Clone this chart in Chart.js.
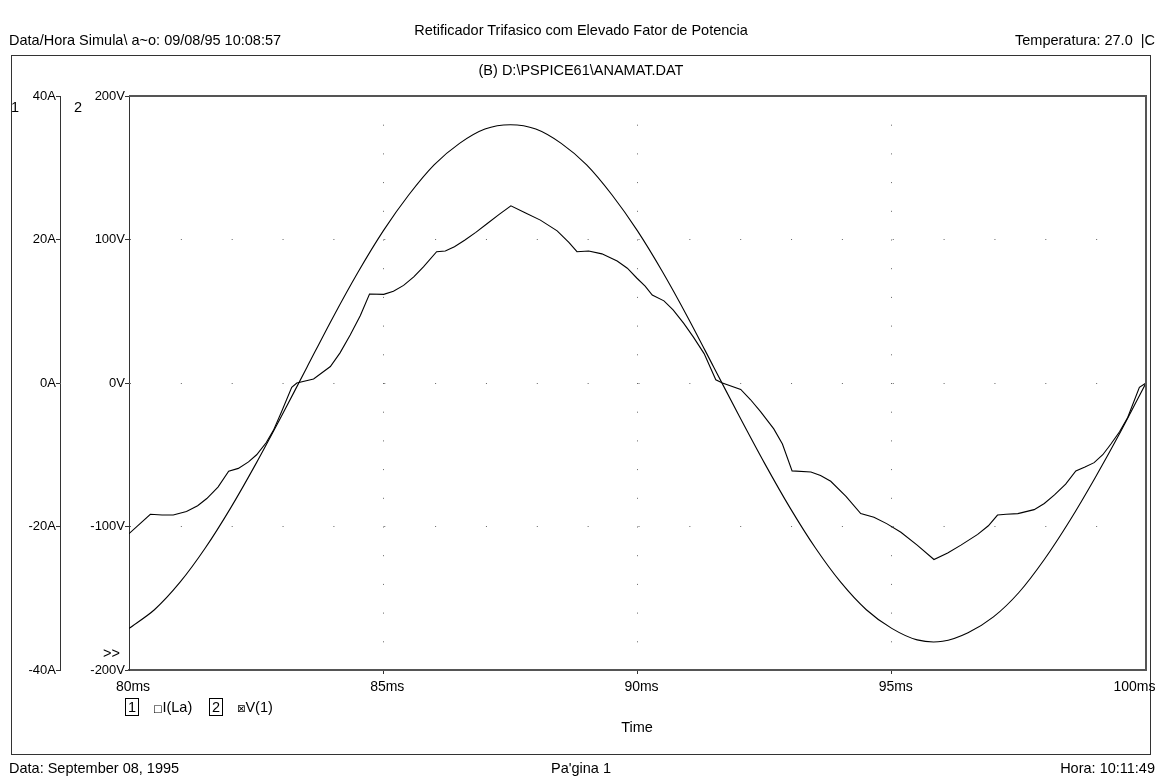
<!DOCTYPE html>
<html><head><meta charset="utf-8">
<script src="https://cdn.jsdelivr.net/npm/chart.js@4"></script>
<style>
html,body{margin:0;padding:0;background:#fff;}
body{width:1163px;height:776px;position:relative;overflow:hidden;font-family:"Liberation Sans",Arial,sans-serif;color:#000;}
.t{position:absolute;font-size:14.5px;line-height:16px;white-space:pre;}
#frame{position:absolute;left:11px;top:55px;width:1138px;height:698px;border:1px solid #333;}
#c{position:absolute;left:0;top:0;}
.box{position:absolute;border:1px solid #000;width:12px;height:16px;text-align:center;line-height:17px;font-size:14.5px;}
.sym{font-family:"DejaVu Sans",sans-serif;font-size:10px;}
</style></head><body>
<div id="frame"></div>
<canvas id="c" width="1163" height="776" style="width:1163px;height:776px"></canvas>
<div class="t" style="left:0;width:1162px;text-align:center;top:22px">Retificador Trifasico com Elevado Fator de Potencia</div>
<div class="t" style="left:9px;top:32px">Data/Hora Simula\ a~o: 09/08/95 10:08:57</div>
<div class="t" style="right:8px;top:32px">Temperatura: 27.0  |C</div>
<div class="t" style="left:0;width:1162px;text-align:center;top:62px">(B) D:\PSPICE61\ANAMAT.DAT</div>
<div class="t" style="left:11px;top:99px">1</div>
<div class="t" style="left:74px;top:99px">2</div>
<div class="t" style="left:103px;top:645px">&gt;&gt;</div>
<div class="box" style="left:125px;top:698px">1</div>
<div class="t" style="left:153px;top:699px"><span class="sym">□</span>I(La)</div>
<div class="box" style="left:209px;top:698px">2</div>
<div class="t" style="left:237px;top:699px"><span class="sym">⊠</span>V(1)</div>
<div class="t" style="left:537px;width:200px;text-align:center;top:719px">Time</div>
<div class="t" style="left:9px;top:760px">Data: September 08, 1995</div>
<div class="t" style="left:0;width:1162px;text-align:center;top:760px">Pa'gina 1</div>
<div class="t" style="right:8px;top:760px">Hora: 10:11:49</div>
<script>
// ---- data ----
const timeTickLabels = ['80ms', '85ms', '90ms', '95ms', '100ms'];
const currentTickLabels = ['-40A', '-20A', '0A', '20A', '40A'];
const voltTickLabels = ['-200V', '-100V', '0V', '100V', '200V'];

// V(1) : time (ms) and voltage (V)
const tVolt = [80, 80.5, 81, 81.5, 82, 82.5, 83, 83.5, 84, 84.5, 85, 85.5, 86, 86.5, 87, 87.5, 88, 88.5, 89, 89.5, 90,
               90.5, 91, 91.5, 92, 92.5, 93, 93.5, 94, 94.5, 95, 95.5, 96, 96.5, 97, 97.5, 98, 98.5, 99, 99.5, 100];
const vVolt = [-171, -158, -139, -115, -87, -56, -23, 11, 45, 77, 106, 131, 152, 167, 177, 180, 177, 167, 152, 131, 106,
               77, 45, 11, -23, -56, -87, -115, -139, -158, -171, -179, -180, -174, -163, -146, -123, -96, -66, -34, 0];

// I(La) : time (ms) and current (A)
const tCurr = [80.00, 80.42, 80.65, 80.87, 81.13, 81.35, 81.53, 81.75, 81.96,
               82.15, 82.35, 82.51, 82.70, 82.84, 83.00, 83.20, 83.30,
               83.63, 83.96, 84.15, 84.35, 84.55, 84.73,
               85.01, 85.20, 85.40, 85.60, 85.79, 86.05,
               86.22, 86.40, 86.60, 86.82, 87.04, 87.28, 87.51,
               87.80, 88.09, 88.42, 88.65, 88.81,
               89.04, 89.30, 89.60, 89.80, 89.99, 90.15, 90.29,
               90.52, 90.70, 90.91, 91.10, 91.31, 91.54, 91.67,
               92.03, 92.22, 92.42, 92.68, 92.85, 93.04,
               93.41, 93.60, 93.80, 94.10, 94.39,
               94.65, 94.90, 95.18, 95.50, 95.83,
               96.10, 96.36, 96.69, 96.90, 97.08,
               97.25, 97.48, 97.80, 98.00, 98.20, 98.42, 98.62,
               98.80, 98.98, 99.15, 99.31, 99.48, 99.64, 99.87, 100.0];
const iCurr = [-21.0, -18.3, -18.4, -18.4, -17.9, -17.1, -16.1, -14.5, -12.3,
               -11.9, -11.0, -10.0, -8.3, -6.6, -4.0, -0.6, 0.0,
               0.55, 2.3, 4.2, 6.7, 9.4, 12.4,
               12.35, 12.8, 13.6, 14.8, 16.2, 18.3,
               18.4, 19.0, 19.9, 21.0, 22.2, 23.5, 24.7,
               23.7, 22.7, 21.2, 19.6, 18.3,
               18.4, 18.0, 17.0, 16.0, 14.6, 13.5, 12.25,
               11.45, 10.2, 8.3, 6.4, 4.1, 0.45, 0.0,
               -0.9, -2.3, -4.0, -6.4, -8.5, -12.25,
               -12.4, -12.9, -13.7, -15.8, -18.2,
               -18.7, -19.6, -20.8, -22.6, -24.6,
               -23.7, -22.6, -21.1, -19.9, -18.4,
               -18.3, -18.2, -17.65, -16.8, -15.6, -14.1, -12.25,
               -11.7, -11.1, -10.0, -8.5, -6.8, -4.8, -0.6, 0];

Chart.defaults.font.family = '"Liberation Sans", Arial, sans-serif';
Chart.defaults.color = '#000';

const framePlugin = {
  id: 'frame',
  afterDraw(chart) {
    const a = chart.chartArea, ctx = chart.ctx;
    ctx.save();
    ctx.strokeStyle = '#555';
    ctx.lineWidth = 2;
    ctx.beginPath();
    ctx.moveTo(a.left, a.top);
    ctx.lineTo(a.right, a.top);
    ctx.lineTo(a.right, a.bottom);
    ctx.stroke();
    ctx.restore();
  }
};

const transparent = 'rgba(0,0,0,0)';
const dotColor = '#666';

new Chart(document.getElementById('c'), {
  type: 'line',
  data: {
    datasets: [
      {
        label: 'I(La)',
        data: tCurr.map((t, i) => ({x: t, y: iCurr[i]})),
        yAxisID: 'yI',
        borderColor: '#000',
        borderWidth: 1.1,
        pointRadius: 0,
        tension: 0,
        fill: false
      },
      {
        label: 'V(1)',
        data: tVolt.map((t, i) => ({x: t, y: vVolt[i]})),
        yAxisID: 'yV',
        borderColor: '#000',
        borderWidth: 1.1,
        pointRadius: 0,
        tension: 0.3,
        fill: false
      }
    ]
  },
  options: {
    responsive: false,
    animation: false,
    events: [],
    layout: {padding: {left: 0, top: 96, right: 17, bottom: 66}},
    plugins: {legend: {display: false}, title: {display: false}, tooltip: {enabled: false}},
    scales: {
      x: {
        type: 'linear',
        position: 'bottom',
        min: 80, max: 100,
        ticks: {
          stepSize: 5,
          padding: 5,
          labelOffset: 4,
          maxRotation: 0,
          autoSkip: false,
          font: {size: 14},
          callback: (v, i) => i === timeTickLabels.length - 1 ? timeTickLabels[i] + '        ' : timeTickLabels[i]
        },
        grid: {
          drawOnChartArea: true,
          drawTicks: true,
          tickLength: 4,
          lineWidth: 1,
          color: (c) => (c.tick && (c.tick.value === 80 || c.tick.value === 100)) ? transparent : dotColor,
          tickColor: (c) => (c.tick && (c.tick.value === 80 || c.tick.value === 100)) ? transparent : '#333'
        },
        border: {
          display: true, color: '#555', width: 2,
          dash: (c) => {
            const s = c.chart.scales.yV;
            const p = Math.abs(s.getPixelForValue(0) - s.getPixelForValue(20));
            return [1, p - 1];
          }
        },
        afterFit: (s) => { s.height = 40; s.paddingLeft = 0; s.paddingRight = 0; }
      },
      yV: {
        type: 'linear',
        position: 'left',
        weight: 0,
        min: -200, max: 200,
        ticks: {
          stepSize: 100,
          padding: 0,
          font: {size: 13},
          callback: (v, i) => voltTickLabels[i]
        },
        grid: {
          drawOnChartArea: true,
          tickLength: 4,
          color: (c) => (c.tick && Math.abs(c.tick.value) === 200) ? transparent : dotColor,
          tickColor: '#333'
        },
        border: {
          display: true, color: '#333', width: 1,
          dash: (c) => {
            const s = c.chart.scales.x;
            const p = s.getPixelForValue(81) - s.getPixelForValue(80);
            return [1, p - 1];
          }
        },
        afterFit: (s) => { s.width = 69; }
      },
      yI: {
        type: 'linear',
        position: 'left',
        weight: 1,
        min: -40, max: 40,
        ticks: {
          stepSize: 20,
          padding: 0,
          font: {size: 13},
          callback: (v, i) => currentTickLabels[i]
        },
        grid: {drawOnChartArea: false, tickLength: 4, color: '#333', tickColor: '#333'},
        border: {display: true, color: '#333', width: 1},
        afterFit: (s) => { s.width = 60; }
      }
    }
  },
  plugins: [framePlugin]
});
</script>
</body></html>
